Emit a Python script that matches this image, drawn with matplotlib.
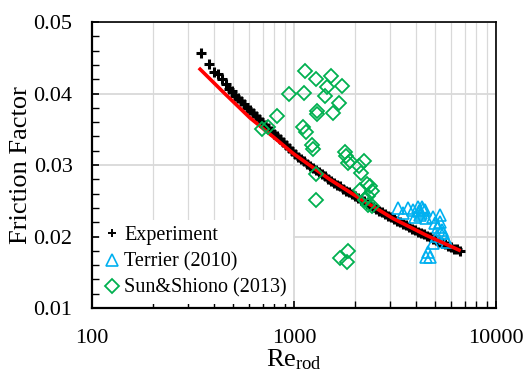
import matplotlib
matplotlib.use('Agg')
import matplotlib.pyplot as plt
from matplotlib.ticker import MultipleLocator, FixedLocator, NullFormatter, LogLocator

plt.rcParams['font.family'] = ['Liberation Serif', 'DejaVu Serif']

# experiment (black +)
exp_re = [345, 380, 402, 420, 440, 460, 478, 493, 511, 528, 547, 566, 585, 606,
          627, 649, 671, 694, 719, 744, 769, 796, 824, 853, 882, 913, 945, 977,
          1012, 1047, 1083, 1121, 1160, 1200, 1242, 1285, 1330, 1376, 1424, 1474,
          1525, 1578, 1633, 1689, 1748, 1809, 1872, 1937, 2005, 2074, 2146, 2221,
          2298, 2378, 2461, 2546, 2635, 2726, 2821, 2919, 3021, 3125, 3234, 3347,
          3463, 3583, 3707, 3837, 3969, 4108, 4250, 4399, 4551, 4710, 4873, 5043,
          5219, 5401, 5588, 5784, 5985, 6194, 6408, 6635]
exp_f = [0.0457, 0.0441, 0.0430, 0.0427, 0.0420, 0.0413, 0.0407, 0.0403, 0.0397,
         0.0394, 0.0389, 0.0385, 0.0380, 0.0377, 0.0373, 0.0368, 0.0364, 0.0360,
         0.0356, 0.0352, 0.0348, 0.0344, 0.0341, 0.0336, 0.0332, 0.0328, 0.0324,
         0.0320, 0.0315, 0.0311, 0.0308, 0.0305, 0.0302, 0.0299, 0.0296, 0.0293,
         0.0290, 0.0287, 0.0284, 0.0281, 0.0278, 0.0275, 0.0272, 0.0270, 0.0267,
         0.0264, 0.0262, 0.0259, 0.0256, 0.0254, 0.0251, 0.0249, 0.0246, 0.0244,
         0.0241, 0.0239, 0.0236, 0.0234, 0.0232, 0.0229, 0.0227, 0.0225, 0.0222,
         0.0220, 0.0218, 0.0216, 0.0214, 0.0211, 0.0209, 0.0207, 0.0205, 0.0203,
         0.0201, 0.0199, 0.0197, 0.0195, 0.0193, 0.0191, 0.0189, 0.0187, 0.0185,
         0.0183, 0.0182, 0.0180]

# Terrier (2010)
ter_re = [3273, 3463, 3667, 3882, 4108, 4302, 4452, 4205, 3969, 4503, 4873, 5283,
          4989, 5163, 5401, 5104, 5588, 5719, 4873, 4606, 4710, 4503, 5463, 5283,
          4150, 4250, 4350]
ter_f = [0.0240, 0.0233, 0.0240, 0.0237, 0.0241, 0.0241, 0.0237, 0.0230, 0.0227,
         0.0226, 0.0227, 0.0230, 0.0219, 0.0213, 0.0209, 0.0201, 0.0198, 0.0192,
         0.0191, 0.0178, 0.0171, 0.0171, 0.0205, 0.0220, 0.0236, 0.0233, 0.0239]

# Sun&Shiono (2013)
sun_re = [1134, 1285, 1520, 1728, 1452, 945, 1125, 1424, 1676, 1300, 1307, 1565,
          821, 694, 746, 1104, 1153, 1228, 1235, 1788, 1809, 1883, 2221, 2098,
          2146, 1292, 2122, 2290, 2365, 2425, 2333, 2246, 2425, 1281, 1689, 1857,
          1823, 1851, 2325]
sun_f = [0.0432, 0.0420, 0.0424, 0.0411, 0.0409, 0.0399, 0.0401, 0.0397, 0.0387,
         0.0376, 0.0371, 0.0373, 0.0368, 0.0351, 0.0353, 0.0353, 0.0346, 0.0328,
         0.0322, 0.0318, 0.0313, 0.0306, 0.0306, 0.0299, 0.0289, 0.0287, 0.0265,
         0.0274, 0.0270, 0.0263, 0.0256, 0.0251, 0.0242, 0.0251, 0.0170, 0.0180,
         0.0165, 0.0303, 0.0244]

# correlation (red line)
fit_re = [343, 450, 605, 800, 992, 1500, 2122, 3101, 4500, 6560]
fit_f = [0.0434, 0.0401, 0.0366, 0.0338, 0.0316, 0.0280, 0.0253, 0.0225, 0.0202, 0.0181]

fig = plt.figure(figsize=(5.25, 3.77), dpi=100)
ax = fig.add_axes([0.1752, 0.183, 0.7696, 0.7586])

ax.plot(exp_re, exp_f, '+', color='black', ms=7, mew=2.2, zorder=3, label='Experiment')
ax.plot(ter_re, ter_f, '^', mfc='none', mec='#00B0F0', ms=8, mew=1.2, zorder=4,
        label='Terrier (2010)')
ax.plot(fit_re, fit_f, '-', color='#FF0000', lw=2.6, zorder=5)
ax.plot(sun_re, sun_f, 'D', mfc='none', mec='#00B050', ms=7, mew=1.3, zorder=6,
        label='Sun&Shiono (2013)')

ax.set_xscale('log')
ax.set_xlim(100, 10000)
ax.set_ylim(0.01, 0.05)
ax.yaxis.set_major_locator(MultipleLocator(0.01))
ax.yaxis.set_minor_locator(MultipleLocator(0.002))
ax.xaxis.set_major_locator(FixedLocator([100, 1000, 10000]))
ax.xaxis.set_minor_locator(LogLocator(base=10, subs=range(2, 10)))
ax.xaxis.set_minor_formatter(NullFormatter())
ax.set_xticklabels(['100', '1000', '10000'])

ax.grid(which='major', color='#d9d9d9', lw=1.3, zorder=0)
ax.grid(which='minor', axis='x', color='#d9d9d9', lw=0.9, zorder=0)
ax.set_axisbelow(True)

ax.tick_params(which='both', direction='in', labelsize=16, pad=14)
ax.tick_params(which='major', length=5, width=1.2)
ax.tick_params(which='minor', length=5, width=1.0)
ax.tick_params(axis='x', pad=15)
for s in ax.spines.values():
    s.set_linewidth(1.2)
ax.spines['left'].set_linewidth(1.6)
ax.spines['bottom'].set_linewidth(1.6)

ax.set_ylabel('Friction Factor', fontsize=19, labelpad=1)
ax.set_xlabel(r'$\mathregular{Re_{rod}}$', fontsize=19, labelpad=0)

leg = ax.legend(loc='lower left', bbox_to_anchor=(0.01, 0.0), fontsize=14.5,
                handlelength=0.6, handletextpad=0.3, labelspacing=0.35,
                borderpad=0.3, borderaxespad=0.2, frameon=True, fancybox=False,
                edgecolor='none', facecolor='white', framealpha=1)
leg.set_zorder(10)
leg.legend_handles[0].set_markersize(5.5)
leg.legend_handles[0].set_markeredgewidth(1.4)

fig.savefig('out.png', dpi=100)
